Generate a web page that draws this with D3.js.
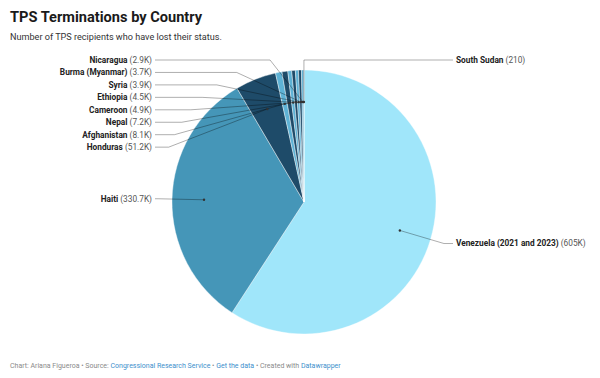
<!DOCTYPE html>
<html>
<head>
<meta charset="utf-8">
<script src="https://cdn.jsdelivr.net/npm/d3@7"></script>
<style>
  body { margin: 0; background: #fff; }
  svg { font-family: Roboto, "Helvetica Neue", Arial, sans-serif; }
</style>
</head>
<body>
<div id="chart"></div>
<script>
// data, biggest slice first (clockwise from 12 o'clock)
const countries = ["Venezuela (2021 and 2023)", "Haiti", "Honduras", "Afghanistan", "Nepal",
  "Cameroon", "Ethiopia", "Syria", "Burma (Myanmar)", "Nicaragua", "South Sudan"]
const values = [605000, 330700, 51200, 8100, 7200, 4900, 4500, 3900, 3700, 2900, 210]
const valueLabels = ["605K", "330.7K", "51.2K", "8.1K", "7.2K", "4.9K", "4.5K", "3.9K", "3.7K", "2.9K", "210"]
const sliceColors = ["#a0e6fa", "#4596b8", "#1e4b69", "#5eb2d5", "#1e4b69", "#5eb2d5",
  "#1e4b69", "#5eb2d5", "#1e4b69", "#5eb2d5", "#1e4b69"]
const rightSide = ["Venezuela (2021 and 2023)", "South Sudan"]

const width = 600, height = 378
const cx = 304, cy = 202, radius = 132
const anchorR = 100, elbowR = 146, lineH = 12.45

const data = countries.map((c, i) => ({name: c, value: values[i], label: valueLabels[i], color: sliceColors[i]}))

const svg = d3.select("#chart").append("svg")
  .attr("width", width).attr("height", height)
  .attr("viewBox", [0, 0, width, height])

svg.append("text").attr("x", 10).attr("y", 22)
  .attr("font-size", 14.6).attr("font-weight", 700).attr("fill", "#1a1a1a")
  .text("TPS Terminations by Country")
svg.append("text").attr("x", 10).attr("y", 40)
  .attr("font-size", 9.1).attr("fill", "#333")
  .text("Number of TPS recipients who have lost their status.")

let pie = d3.pie().sort(null).value(d => d.value)
let arcs = pie(data)
let arc = d3.arc().innerRadius(0).outerRadius(radius)

const g = svg.append("g").attr("transform", `translate(${cx},${cy})`)

g.selectAll("path")
  .data(arcs)
  .join("path")
  .attr("d", arc)
  .attr("fill", d => d.data.color)
  .attr("stroke", "#fff")
  .attr("stroke-width", 0.4)

// label layout: natural position on the outer circle, then stacked downwards
let mid = d => (d.startAngle + d.endAngle) / 2
arcs.forEach(d => {
  let a = mid(d)
  d.ax = Math.sin(a) * anchorR
  d.ay = -Math.cos(a) * anchorR
  d.side = rightSide.includes(d.data.name) ? 1 : -1
  d.ly = -Math.cos(a) * elbowR
})
const yTop = -radius - 10
for (let side of [-1, 1]) {
  let list = arcs.filter(d => d.side === side).sort((a, b) => a.ly - b.ly)
  let prev = -Infinity
  list.forEach(d => {
    d.ly = Math.max(d.ly, yTop, prev + lineH)
    prev = d.ly
  })
}
arcs.forEach(d => {
  let dy = d.ly
  if (Math.sign(d.ax) !== d.side && Math.abs(d.ax) < 5) {
    d.ex = d.ax
  } else {
    d.ex = d.side * Math.sqrt(Math.max(0, elbowR * elbowR - dy * dy))
  }
})

g.append("g")
  .selectAll("polyline")
  .data(arcs)
  .join("polyline")
  .attr("fill", "none")
  .attr("stroke", "#000")
  .attr("stroke-opacity", 0.4)
  .attr("stroke-width", 0.8)
  .attr("points", d => [[d.ax, d.ay], [d.ex, d.ly], [d.side * (elbowR + 3), d.ly]].join(" "))

g.append("g")
  .selectAll("circle")
  .data(arcs)
  .join("circle")
  .attr("cx", d => d.ax).attr("cy", d => d.ay)
  .attr("r", 1.2).attr("fill", "#333")

let labels = g.append("g")
  .selectAll("text")
  .data(arcs)
  .join("text")
  .attr("x", d => d.side * (elbowR + 6))
  .attr("y", d => d.ly)
  .attr("dy", "0.35em")
  .attr("font-size", 8.3)
  .attr("text-anchor", d => d.side > 0 ? "start" : "end")
labels.append("tspan").attr("font-weight", 700).attr("fill", "#222").text(d => d.data.name)
labels.append("tspan").attr("fill", "#555").text(d => ` (${d.data.label})`)

// footer
const footer = svg.append("text").attr("x", 10).attr("y", 368)
  .attr("font-size", 7).attr("fill", "#8a8a8a")
const parts = [["Chart: Ariana Figueroa \u2022 Source: ", false], ["Congressional Research Service", true],
  [" \u2022 ", false], ["Get the data", true], [" \u2022 Created with ", false], ["Datawrapper", true]]
parts.forEach(([t, link]) => footer.append("tspan").attr("fill", link ? "#3d8fcc" : "#8a8a8a").text(t))
</script>
</body>
</html>
